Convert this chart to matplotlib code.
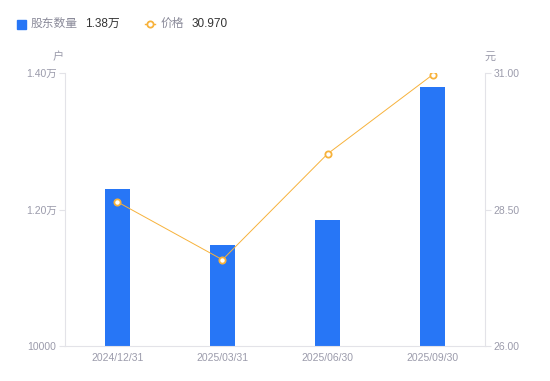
import matplotlib.pyplot as plt
from matplotlib.lines import Line2D
from matplotlib.patches import Rectangle

plt.rcParams['font.family'] = ['Liberation Sans', 'Noto Sans CJK SC', 'DejaVu Sans']

dates = ["2024/12/31", "2025/03/31", "2025/06/30", "2025/09/30"]
holders = [12300, 11480, 11850, 13800]
price = [28.64, 27.58, 29.52, 30.97]

left_ticks = [10000, 12000, 14000]
left_labels = ["10000", "1.20万", "1.40万"]
right_ticks = [26.0, 28.5, 31.0]

bar_color = "#2776f6"
line_color = "#f7b23b"
tick_color = "#9b9bab"
spine_color = "#e3e3e8"

fig = plt.figure(figsize=(5.5, 3.81), dpi=100)
ax = fig.add_axes([0.118, 0.092, 0.764, 0.716])
ax2 = ax.twinx()

x = list(range(len(dates)))
ax.bar(x, holders, width=0.24, color=bar_color, zorder=2)
ax.set_xlim(-0.5, 3.5)
ax.set_ylim(10000, 14000)
ax.set_yticks(left_ticks)
ax.set_yticklabels(left_labels)
ax.set_xticks(x)
ax.set_xticklabels(dates)

ax2.plot(x, price, color=line_color, lw=0.7, marker="o", ms=4.5,
         mfc="white", mec=line_color, mew=1.3, zorder=3)
ax2.set_ylim(26, 31)
ax2.set_yticks(right_ticks)
ax2.set_yticklabels([f"{v:.2f}" for v in right_ticks])

for a in (ax, ax2):
    for s in a.spines.values():
        s.set_visible(False)
    a.tick_params(axis="y", colors=spine_color, labelcolor=tick_color,
                  labelsize=7.5, length=4, width=0.8, pad=2)
    a.tick_params(axis="x", length=0, labelcolor=tick_color, labelsize=7.5, pad=5)

ax.spines["left"].set_visible(True)
ax.spines["left"].set_color(spine_color)
ax.spines["bottom"].set_visible(True)
ax.spines["bottom"].set_color(spine_color)
ax2.spines["right"].set_visible(True)
ax2.spines["right"].set_color(spine_color)

ax.set_zorder(ax2.get_zorder() - 1)
ax2.patch.set_visible(False)

# unit labels
fig.text(58 / 550, 1 - 57 / 381, "户", color=tick_color, fontsize=8, ha="center", va="center")
fig.text(490 / 550, 1 - 57 / 381, "元", color=tick_color, fontsize=8, ha="center", va="center")

# legend row
ly = 1 - 24 / 381
fig.patches.append(Rectangle((17 / 550, 1 - 29 / 381), 9 / 550, 9 / 381,
                             transform=fig.transFigure, color=bar_color))
fig.text(31 / 550, ly, "股东数量", color="#8a8a99", fontsize=8.5, va="center")
fig.text(85 / 550, ly, "1.38万", color="#333333", fontsize=8.5, va="center")
fig.lines.append(Line2D([145 / 550, 155 / 550], [ly, ly], transform=fig.transFigure,
                        color=line_color, lw=1))
fig.lines.append(Line2D([150 / 550], [ly], transform=fig.transFigure, color=line_color,
                        marker="o", ms=4.5, mfc="white", mec=line_color, mew=1.3))
fig.text(161 / 550, ly, "价格", color="#8a8a99", fontsize=8.5, va="center")
fig.text(192 / 550, ly, "30.970", color="#333333", fontsize=8.5, va="center")

fig.savefig("out.png", dpi=100)
